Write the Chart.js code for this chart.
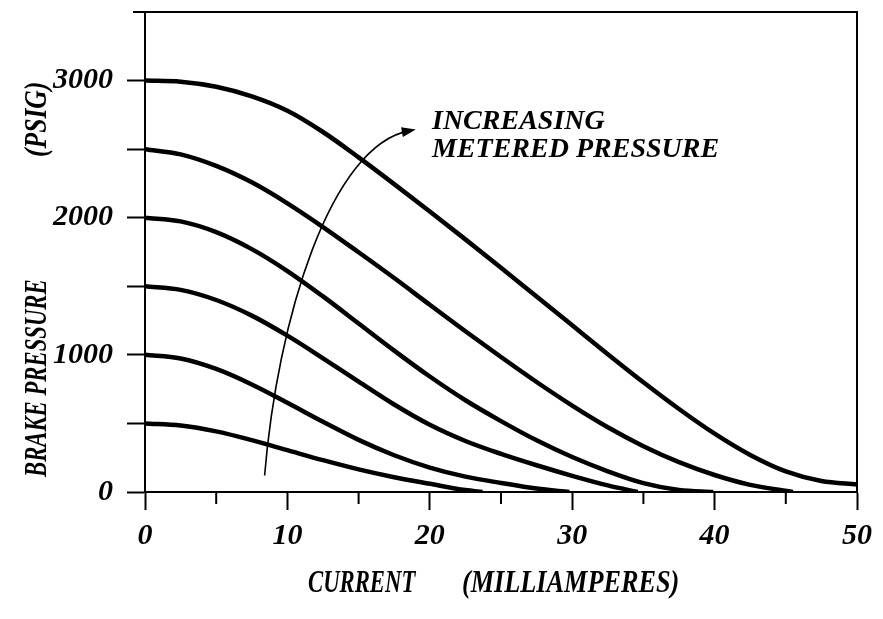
<!DOCTYPE html>
<html>
<head>
<meta charset="utf-8">
<script src="https://cdn.jsdelivr.net/npm/chart.js@4.4.1/dist/chart.umd.min.js"></script>
<style>
  html, body { margin: 0; padding: 0; background: #fff; }
  canvas { display: block; }
</style>
</head>
<body>
<canvas id="brakeChart" width="883" height="619"></canvas>
<script>
// current (mA) and brake pressure (psig), one pair per curve
const current500 = [0, 2.5, 5, 7.5, 10, 12.5, 15, 17.5, 20, 22.5, 23.7];
const pressure500 = [500, 485, 442, 378, 305, 232, 165, 108, 60, 14, 0];

const current1000 = [0, 2.5, 5, 7.5, 10, 12.5, 15, 17.5, 20, 22.5, 25, 27.5, 29.8];
const pressure1000 = [1000, 973, 897, 784, 650, 512, 380, 268, 178, 112, 66, 25, 0];

const current1500 = [0, 2.5, 5, 7.5, 10, 12.5, 15, 17.5, 20, 22.5, 25, 27.5, 30, 32.5, 34.6];
const pressure1500 = [1500, 1474, 1400, 1286, 1140, 975, 805, 638, 490, 372, 278, 195, 118, 48, 0];

const current2000 = [0, 2.5, 5, 7.5, 10, 12.5, 15, 17.5, 20, 22.5, 25, 27.5, 30, 32.5, 35, 37.5, 39.9];
const pressure2000 = [2000, 1973, 1895, 1771, 1611, 1426, 1229, 1031, 842, 669, 517, 377, 255, 151, 65, 15, 0];

const current2500 = [0, 2.5, 5, 7.5, 10, 12.5, 15, 17.5, 20, 22.5, 25, 27.5, 30, 32.5, 35, 37.5, 40, 42.5, 45.5];
const pressure2500 = [2500, 2462, 2378, 2258, 2105, 1932, 1748, 1560, 1365, 1172, 984, 802, 630, 472, 334, 218, 124, 52, 0];

const current3000 = [0, 2.5, 5, 7.5, 10, 12.5, 15, 17.5, 20, 22.5, 25, 27.5, 30, 32.5, 35, 37.5, 40, 42.5, 45, 47.5, 50];
const pressure3000 = [3000, 2992, 2955, 2885, 2780, 2625, 2440, 2245, 2045, 1842, 1635, 1425, 1215, 1005, 800, 605, 425, 270, 150, 80, 55];

const xLabeled = [0, 10, 20, 30, 40, 50];
const xMinor = [5, 15, 25, 35, 45];
const yLabeled = [0, 1000, 2000, 3000];

// the curved arrow, in data units (mA, psig): start, two control points, tip
const arrowPath = [[8.4, 120], [9.3, 1255], [13.0, 2530], [18.6, 2635]];

const curves = [
  [current500, pressure500],
  [current1000, pressure1000],
  [current1500, pressure1500],
  [current2000, pressure2000],
  [current2500, pressure2500],
  [current3000, pressure3000]
];

const tickFont = { family: "'Liberation Serif'", size: 30, style: 'italic', weight: 'bold' };
const titleFont = 'italic bold 32px "Liberation Serif"';
const noteFont = 'italic bold 28px "Liberation Serif"';

// the original lettering is a condensed face, so squeeze the text sideways
function narrowText(ctx, text, x, y, angle, squeeze) {
  ctx.save();
  ctx.translate(x, y);
  ctx.rotate(angle);
  ctx.scale(squeeze, 1);
  ctx.fillText(text, 0, 0);
  ctx.restore();
}

const extras = {
  id: 'extras',
  afterDraw(chart) {
    const ctx = chart.ctx;
    const area = chart.chartArea;
    const xs = chart.scales.x;
    const ys = chart.scales.y;
    ctx.save();
    ctx.strokeStyle = '#000';
    ctx.fillStyle = '#000';

    // top and right frame
    ctx.lineWidth = 2;
    ctx.beginPath();
    ctx.moveTo(area.left - 12, area.top);
    ctx.lineTo(area.right, area.top);
    ctx.lineTo(area.right, area.bottom);
    ctx.stroke();

    // short ticks at 5, 15, ...
    ctx.beginPath();
    xMinor.forEach(v => {
      const px = xs.getPixelForValue(v);
      ctx.moveTo(px, area.bottom);
      ctx.lineTo(px, area.bottom + 12);
    });
    ctx.stroke();

    // curved arrow
    const p = arrowPath.map(([a, b]) => [xs.getPixelForValue(a), ys.getPixelForValue(b)]);
    ctx.lineWidth = 1.6;
    ctx.beginPath();
    ctx.moveTo(p[0][0], p[0][1]);
    ctx.bezierCurveTo(p[1][0], p[1][1], p[2][0], p[2][1], p[3][0], p[3][1]);
    ctx.stroke();
    const ang = Math.atan2(p[3][1] - p[2][1], p[3][0] - p[2][0]);
    ctx.save();
    ctx.translate(p[3][0], p[3][1]);
    ctx.rotate(ang);
    ctx.beginPath();
    ctx.moveTo(6, 0);
    ctx.lineTo(-8, -5);
    ctx.lineTo(-8, 5);
    ctx.closePath();
    ctx.fill();
    ctx.restore();

    // note
    ctx.font = noteFont;
    ctx.textAlign = 'left';
    ctx.textBaseline = 'alphabetic';
    ctx.fillText('INCREASING', 432, 129);
    ctx.fillText('METERED PRESSURE', 432, 157);

    // axis titles
    ctx.font = titleFont;
    const midX = (area.left + area.right) / 2;
    narrowText(ctx, 'CURRENT', midX - 193, 592, 0, 0.71);
    narrowText(ctx, '(MILLIAMPERES)', midX - 39, 592, 0, 0.82);
    narrowText(ctx, 'BRAKE PRESSURE', 46, 477, -Math.PI / 2, 0.71);
    narrowText(ctx, '(PSIG)', 46, 157, -Math.PI / 2, 0.8);
    ctx.restore();
  }
};

const config = {
  type: 'line',
  data: {
    datasets: curves.map(([xsData, ysData]) => ({
      data: xsData.map((x, i) => ({ x: x, y: ysData[i] })),
      borderColor: '#000',
      borderWidth: 4.5,
      pointRadius: 0,
      fill: false,
      cubicInterpolationMode: 'monotone'
    }))
  },
  options: {
    responsive: false,
    animation: false,
    layout: { padding: { top: 12, right: 26, left: 0, bottom: 0 } },
    plugins: {
      legend: { display: false },
      tooltip: { enabled: false }
    },
    scales: {
      x: {
        type: 'linear',
        min: 0,
        max: 50,
        ticks: {
          stepSize: 5,
          autoSkip: false,
          maxRotation: 0,
          padding: 8,
          color: '#000',
          font: tickFont,
          callback: v => xLabeled.includes(v) ? String(v) : ''
        },
        grid: {
          drawOnChartArea: false,
          drawTicks: true,
          tickLength: 18,
          tickWidth: 2,
          tickColor: c => (c.tick && xLabeled.includes(c.tick.value)) ? '#000' : 'rgba(0,0,0,0)'
        },
        border: { display: true, color: '#000', width: 2 },
        // fixed band under the plot, no extra room for end labels
        afterFit: s => {
          s.height = 127;
          s.paddingLeft = 0;
          s.paddingRight = 0;
        }
      },
      y: {
        min: 0,
        max: 3500,
        ticks: {
          stepSize: 500,
          autoSkip: false,
          padding: 14,
          color: '#000',
          font: tickFont,
          callback: v => yLabeled.includes(v) ? String(v) : ''
        },
        grid: {
          drawOnChartArea: false,
          drawTicks: true,
          tickLength: 18,
          tickWidth: 2,
          tickColor: c => (c.tick && c.tick.value < 3500) ? '#000' : 'rgba(0,0,0,0)'
        },
        border: { display: true, color: '#000', width: 2 },
        afterFit: s => {
          s.width = 145;
          s.paddingTop = 0;
          s.paddingBottom = 0;
        }
      }
    }
  },
  plugins: [extras]
};

new Chart(document.getElementById('brakeChart'), config);
</script>
</body>
</html>
